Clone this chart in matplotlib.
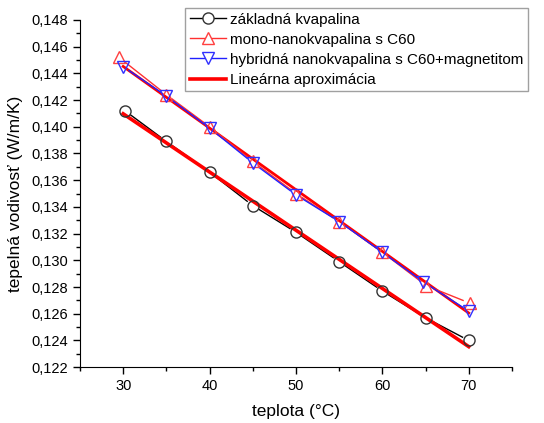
import matplotlib
matplotlib.use("Agg")
import matplotlib.pyplot as plt
from matplotlib.lines import Line2D
from matplotlib.ticker import MultipleLocator, FuncFormatter
import numpy as np

plt.rcParams['font.family'] = ['Liberation Sans', 'DejaVu Sans']

# data
t_base = [30.2, 35.0, 40.0, 45.0, 50.0, 55.0, 60.0, 65.0, 70.0]
k_base = [0.1412, 0.1389, 0.1366, 0.1341, 0.1321, 0.1299, 0.1277, 0.1257, 0.1240]

t_mono = [29.5, 35.0, 40.0, 45.0, 50.0, 55.0, 60.0, 65.1, 70.1]
k_mono = [0.1452, 0.1424, 0.1400, 0.1374, 0.1350, 0.1329, 0.1306, 0.1281, 0.1268]

t_hyb = [30.0, 35.0, 40.0, 45.0, 50.0, 55.0, 60.0, 64.7, 70.0]
k_hyb = [0.1445, 0.1423, 0.1399, 0.1373, 0.1349, 0.1329, 0.1306, 0.1284, 0.1262]

labels = ["základná kvapalina", "mono-nanokvapalina s C60",
          "hybridná nanokvapalina s C60+magnetitom", "Lineárna aproximácia"]

fig = plt.figure(figsize=(5.44, 4.23), dpi=100)
ax = fig.add_axes([0.147, 0.132, 0.794, 0.821])
ax.set_xlim(25, 75)
ax.set_ylim(0.122, 0.148)


def gapped(ax, x, y, color, gap_px=7.0, lw=1.0, z=2):
    # Origin-style: segments stop short of the markers
    tr = ax.transData
    pts = tr.transform(np.column_stack([x, y]))
    inv = tr.inverted()
    for p0, p1 in zip(pts[:-1], pts[1:]):
        d = p1 - p0
        L = np.hypot(*d)
        if L <= 2 * gap_px:
            continue
        u = d / L
        a = inv.transform(p0 + u * gap_px)
        b = inv.transform(p1 - u * gap_px)
        ax.plot([a[0], b[0]], [a[1], b[1]], color=color, lw=lw, zorder=z)


# linear fits
tt = np.array([30.0, 70.0])
c_base = np.polyfit(t_base, k_base, 1)
c_up = np.polyfit(t_mono + t_hyb, k_mono + k_hyb, 1)
ax.plot(tt, np.polyval(c_base, tt), color='#ff0000', lw=2.6, zorder=3)
ax.plot(tt, np.polyval(c_up, tt), color='#ff0000', lw=2.0, zorder=1)

gapped(ax, t_base, k_base, 'black', z=2)
gapped(ax, t_mono, k_mono, '#ff3030', z=2)
gapped(ax, t_hyb, k_hyb, '#2020ff', z=2)

ax.plot(t_base, k_base, 'o', ms=8, mfc='none', mec='#333333', mew=1.0, zorder=4)
ax.plot(t_mono, k_mono, '^', ms=9, mfc='none', mec='#ff4040', mew=1.0, zorder=4)
ax.plot(t_hyb, k_hyb, 'v', ms=9, mfc='none', mec='#3030ff', mew=1.0, zorder=5)

ax.spines['top'].set_visible(False)
ax.spines['right'].set_visible(False)
ax.xaxis.set_major_locator(MultipleLocator(10))
ax.xaxis.set_minor_locator(MultipleLocator(5))
ax.yaxis.set_major_locator(MultipleLocator(0.002))
ax.yaxis.set_minor_locator(MultipleLocator(0.001))
ax.yaxis.set_major_formatter(FuncFormatter(lambda v, p: f"{v:.3f}".replace('.', ',')))
ax.tick_params(which='major', direction='out', length=5, width=1, labelsize=10.5)
ax.tick_params(which='minor', direction='out', length=3, width=1)
ax.set_xticks([30, 40, 50, 60, 70])

ax.set_xlabel("teplota (°C)", fontsize=12.5, labelpad=8)
ax.set_ylabel("tepelná vodivosť (W/m/K)", fontsize=12.5, labelpad=6)

handles = [
    Line2D([], [], color='black', lw=1, marker='o', ms=8, mfc='white', mec='#333333'),
    Line2D([], [], color='#ff3030', lw=1, marker='^', ms=9, mfc='white', mec='#ff4040'),
    Line2D([], [], color='#2020ff', lw=1, marker='v', ms=9, mfc='white', mec='#3030ff'),
    Line2D([], [], color='#ff0000', lw=2.6),
]
leg = fig.legend(handles, labels, loc='upper left', bbox_to_anchor=(185 / 544, 1 - 8 / 423),
                 fontsize=11, frameon=True, fancybox=False, edgecolor='#888888',
                 handlelength=2.4, handletextpad=0.25, borderpad=0.3, labelspacing=0.4,
                 borderaxespad=0)
leg.get_frame().set_linewidth(1.0)

fig.savefig("out.png", dpi=100)
